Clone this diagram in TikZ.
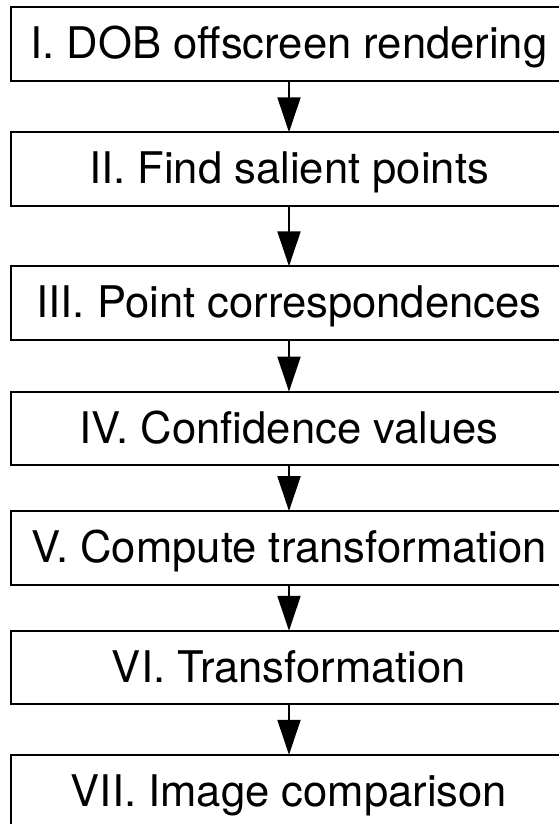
\documentclass[tikz,border=0pt]{standalone}
\usepackage{fontspec}
\setmainfont{TeX Gyre Heros}
\usetikzlibrary{arrows.meta}

\tikzset{
  stage/.style={draw, line width=2pt, minimum width=556pt, minimum height=73.4pt,
    inner sep=0pt, outer sep=0pt, text height=30.5pt, text depth=1pt,
    font=\fontsize{43.6pt}{50pt}\selectfont},
  flow/.style={line width=2pt, -{Triangle[length=35pt,width=23pt]}}
}

\begin{document}
\begin{tikzpicture}[x=1pt,y=-1pt]
	%the page
	    \useasboundingbox (0,0) rectangle (558,824);
	%the stages, one under the other
    \def\cx{289}
    \node[stage] (s1) at (\cx,44)    {I. DOB offscreen rendering};
    \node[stage] (s2) at (\cx,169)   {II. Find salient points};
    \node[stage] (s3) at (\cx,303)   {III. Point correspondences};
    \node[stage] (s4) at (\cx,428.3) {IV. Confidence values};
    \node[stage] (s5) at (\cx,547.8) {V. Compute transformation};
    \node[stage] (s6) at (\cx,667.5) {VI. Transformation};
    \node[stage] (s7) at (\cx,791.5) {VII. Image comparison};
	%the arrows
    \draw[flow] (s1) -- (s2);
    \draw[flow] (s2) -- (s3);
    \draw[flow] (s3) -- (s4);
    \draw[flow] (s4) -- (s5);
    \draw[flow] (s5) -- (s6);
    \draw[flow] (s6) -- (s7);
\end{tikzpicture}
\end{document}
